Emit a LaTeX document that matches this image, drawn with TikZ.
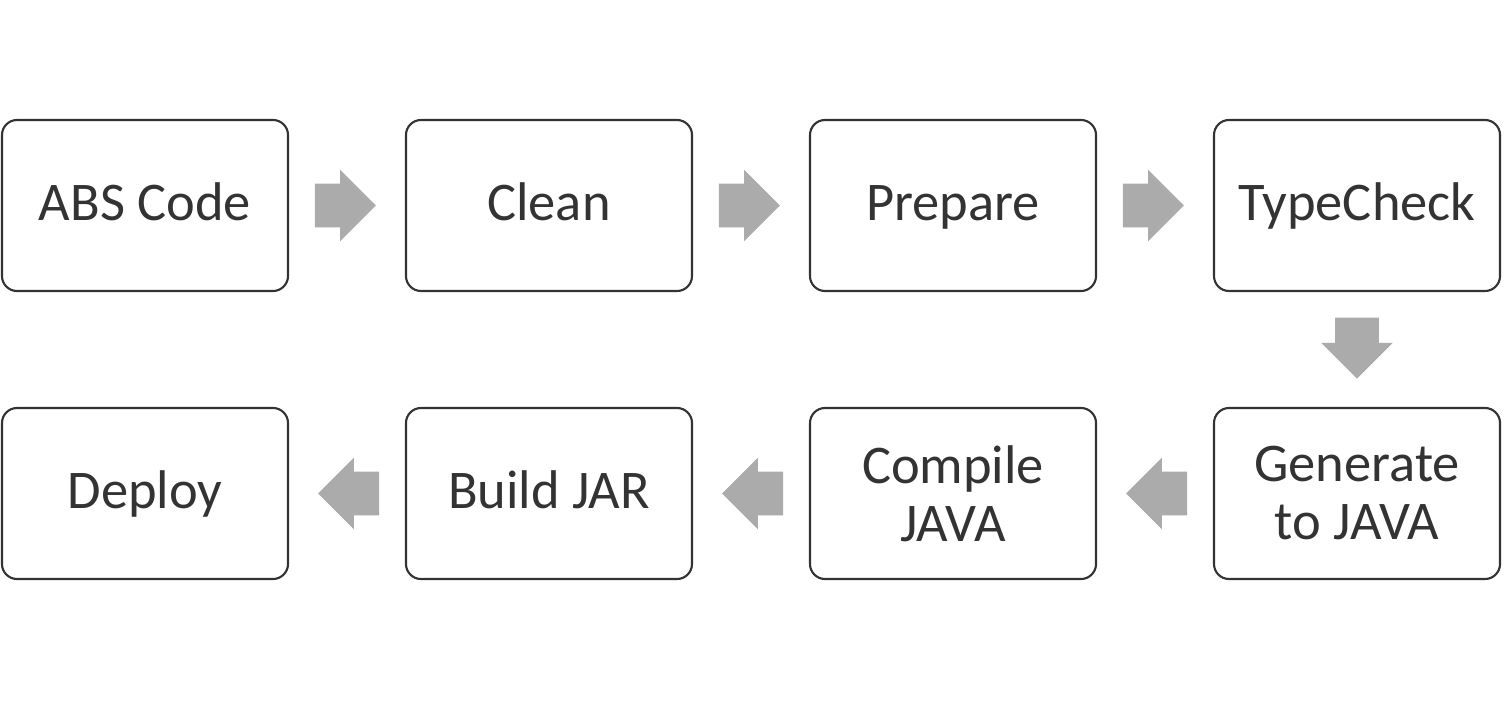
\documentclass[tikz,border=0pt]{standalone}
\usepackage{fontspec}
\setmainfont{Carlito}
\usetikzlibrary{positioning, shapes.arrows, calc}
\definecolor{boxline}{HTML}{333333}
\definecolor{arrowgray}{HTML}{ABABAB}
\tikzset{
  node distance=5.76cm and 8.08cm, % row and column spacing of the stages
  stage/.style={draw=boxline, line width=1.2pt, rounded corners=0.3cm,
    minimum width=5.72cm, minimum height=3.42cm, align=center,
    text=boxline, font=\fontsize{31}{33}\selectfont}, % one build step
  oneline/.style={text height=22pt, text depth=5.5pt}, % same baseline for all
  flow/.style={single arrow, fill=arrowgray, draw=none, anchor=tail,
    inner xsep=0pt, inner ysep=0.43cm,
    minimum height=1.22cm, single arrow head extend=0.28cm}, % the fat grey arrows
}

\begin{document}
\begin{tikzpicture}[on grid]
  \useasboundingbox (0,0) rectangle (30.14,-14);

  % top row
  \node[stage, oneline] (abs) at (2.9,-4.11) {ABS Code};
  \node[stage, oneline, right=of abs] (clean) {Clean};
  \node[stage, oneline, right=of clean] (prepare) {Prepare};
  \node[stage, oneline, right=of prepare] (typecheck) {TypeCheck};

  % bottom row, read right to left
  \node[stage, below=of typecheck] (generate) {Generate\\to JAVA};
  \node[stage, left=of generate] (compile) {Compile\\JAVA};
  \node[stage, oneline, left=of compile] (jar) {Build JAR};
  \node[stage, oneline, left=of jar] (deploy) {Deploy};

  % tails sit a bit nearer the box they leave
  \node[flow] (f1) at ($(abs.east)!0.22!(clean.west)$) {};
  \node[flow] (f2) at ($(clean.east)!0.22!(prepare.west)$) {};
  \node[flow] (f3) at ($(prepare.east)!0.22!(typecheck.west)$) {};
  \node[flow, rotate=-90] (f4) at ($(typecheck.south)!0.22!(generate.north)$) {};
  \node[flow, rotate=180] (f5) at ($(generate.west)!0.22!(compile.east)$) {};
  \node[flow, rotate=180] (f6) at ($(compile.west)!0.22!(jar.east)$) {};
  \node[flow, rotate=180] (f7) at ($(jar.west)!0.22!(deploy.east)$) {};
\end{tikzpicture}
\end{document}
